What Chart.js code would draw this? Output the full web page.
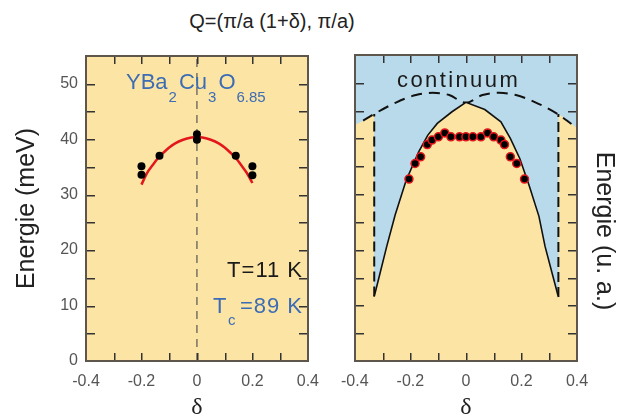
<!DOCTYPE html>
<html>
<head>
<meta charset="utf-8">
<script src="https://cdn.jsdelivr.net/npm/chart.js@4.4.1/dist/chart.umd.min.js"></script>
<style>
  html, body { margin: 0; padding: 0; background: #fff; overflow: hidden; }
  #wrap { position: relative; width: 624px; height: 416px; }
  canvas { position: absolute; top: 0; }
  #title { position: absolute; left: 172px; width: 200px; top: 10px; text-align: center;
           font: 20px "Liberation Sans", Arial, sans-serif; color: #222; }
</style>
</head>
<body>
<div id="wrap">
  <div id="title">Q=(π/a (1+δ), π/a)</div>
  <canvas id="left" width="330" height="416" style="left:0"></canvas>
  <canvas id="right" width="294" height="416" style="left:330px"></canvas>
</div>
<script>
// axes
const xTickMarks = [-0.3, -0.2, -0.1, 0, 0.1, 0.2, 0.3];
const xLabels = [-0.4, -0.2, 0, 0.2, 0.4];
const yTickMarks = [5, 10, 15, 20, 25, 30, 35, 40, 45, 50];
const yLabels = [0, 10, 20, 30, 40, 50];

// left panel: measured energies and fit
const leftDelta = [-0.2, -0.2, -0.135, 0, 0, 0.14, 0.2, 0.2];
const leftEnergy = [35.1, 33.6, 37.0, 40.9, 39.9, 37.0, 35.1, 33.5];
const fitDelta = [-0.2, -0.18, -0.16, -0.14, -0.12, -0.1, -0.08, -0.05, -0.02, 0, 0.02, 0.05, 0.08, 0.1, 0.12, 0.14, 0.16, 0.18, 0.2];
const fitEnergy = [31.8, 33.9, 35.3, 36.6, 37.6, 38.5, 39.2, 39.9, 40.3, 40.4, 40.3, 39.9, 39.2, 38.5, 37.6, 36.6, 35.3, 33.9, 32.1];

// right panel: model
const rightDelta = [-0.205, -0.183, -0.163, -0.139, -0.122, -0.099, -0.076, -0.054, -0.023, 0, 0.025, 0.054, 0.078, 0.1, 0.126, 0.139, 0.16, 0.183, 0.211];
const rightEnergy = [32.7, 35.5, 36.7, 38.9, 39.7, 40.3, 41.0, 40.3, 40.3, 40.3, 40.3, 40.3, 41.0, 40.3, 39.7, 38.9, 36.7, 35.5, 32.7];
const domeDelta = [-0.33, -0.31, -0.285, -0.255, -0.215, -0.17, -0.137, -0.103, -0.05, 0, 0.068, 0.126, 0.16, 0.194, 0.228, 0.263, 0.285, 0.314, 0.333];
const domeEnergy = [11.6, 15.6, 20.6, 26.2, 32.5, 37.6, 40.6, 42.7, 44.8, 46.5, 45.2, 43.0, 40.0, 36.4, 31.5, 26.0, 20.6, 15.1, 11.5];
const contDelta = [-0.37, -0.33, -0.25, -0.18, -0.12, -0.06, 0, 0.06, 0.12, 0.18, 0.25, 0.33, 0.38];
const contEnergy = [43.2, 44.4, 46.5, 47.8, 48.2, 47.8, 46.4, 47.8, 48.2, 47.8, 46.5, 44.4, 42.6];
const edgeLeftDelta = [-0.4, -0.37, -0.33];
const edgeLeftEnergy = [42.4, 43.2, 44.4];
const edgeRightDelta = [0.333, 0.37, 0.4];
const edgeRightEnergy = [44.4, 43.1, 41.8];
const baseDelta = [-0.4, 0.4];
const baseEnergy = [11.5, 11.5];

const FONT = '"Liberation Sans", Arial, sans-serif';
const YELLOW = '#fce5a4';
const BLUE = '#b8daea';
const RED = '#e3161b';

const pts = (xs, ys) => xs.map((v, i) => ({ x: v, y: ys[i] }));

function makePanel(bg, texts) {
  return {
    id: 'panel',
    beforeDraw(chart) {
      const { ctx, chartArea: a } = chart;
      ctx.save();
      ctx.fillStyle = bg;
      ctx.fillRect(a.left, a.top, a.right - a.left, a.bottom - a.top);
      ctx.restore();
    },
    afterDraw(chart) {
      const ctx = chart.ctx;
      const a = chart.chartArea;
      const x = chart.scales.x, y = chart.scales.y;
      const L = Math.round(a.left), R = Math.round(a.right);
      const T = Math.round(a.top), B = Math.round(a.bottom);
      ctx.save();
      ctx.fillStyle = '#333';
      xTickMarks.forEach(v => {
        const px = Math.round(x.getPixelForValue(v));
        ctx.fillRect(px, B - 8, 1.5, 8);
        ctx.fillRect(px, T, 1.5, 8);
      });
      yTickMarks.forEach(v => {
        const py = Math.round(y.getPixelForValue(v));
        ctx.fillRect(L, py, 9, 1.5);
        ctx.fillRect(R - 9, py, 9, 1.5);
      });
      ctx.fillStyle = '#5e564a';
      ctx.fillRect(L - 1, T - 1, R - L + 2, 2);
      ctx.fillRect(L - 1, B - 1, R - L + 2, 2);
      ctx.fillRect(L - 1, T - 1, 2, B - T + 2);
      ctx.fillRect(R - 1, T - 1, 2, B - T + 2);
      texts(ctx, a);
      ctx.restore();
    }
  };
}

function xAxis() {
  return {
    type: 'linear', min: -0.4, max: 0.4,
    afterBuildTicks: s => { s.ticks = xLabels.map(v => ({ value: v })); },
    afterFit: s => { s.height = 55; },
    grid: { display: false, drawTicks: false },
    border: { display: false },
    ticks: { padding: 11, color: '#555', font: { family: FONT, size: 16 },
             callback: v => v === 0 ? '0' : v.toFixed(1) },
    title: { display: true, text: 'δ', color: '#222', padding: 0,
             font: { family: '"Liberation Serif", serif', size: 24, lineHeight: 0.7 } }
  };
}

function leftTexts(ctx, a) {
  ctx.fillStyle = '#3c6cb4';
  ctx.textBaseline = 'alphabetic';
  ctx.textAlign = 'left';
  const parts = [['YBa', 0], ['2', 1], ['Cu', 0], ['3', 1], ['O', 0], ['6.85', 1]];
  let px = 126;
  parts.forEach(([s, sub]) => {
    ctx.font = (sub ? '15px ' : '22px ') + FONT;
    ctx.fillText(s, px, sub ? 102 : 89);
    px += ctx.measureText(s).width + (sub ? 2 : 1);
  });
  ctx.fillStyle = '#1a1a1a';
  ctx.textAlign = 'right';
  ctx.letterSpacing = '1px';
  ctx.font = '22px ' + FONT;
  ctx.fillText('T=11 K', 303, 277);
  ctx.fillStyle = '#3c6cb4';
  ctx.fillText('=89 K', 303, 313);
  ctx.textAlign = 'left';
  ctx.letterSpacing = '0px';
  ctx.fillText('T', 213, 313);
  ctx.font = '15px ' + FONT;
  ctx.fillText('c', 228, 325);
}

function rightTexts(ctx, a) {
  ctx.fillStyle = '#1a1a1a';
  ctx.textBaseline = 'alphabetic';
  ctx.textAlign = 'left';
  ctx.letterSpacing = '2.4px';
  ctx.font = '22px ' + FONT;
  ctx.fillText('continuum', 67, 87);
  ctx.letterSpacing = '0px';
  ctx.translate(274, 231);
  ctx.rotate(Math.PI / 2);
  ctx.textAlign = 'center';
  ctx.textBaseline = 'middle';
  ctx.fillStyle = '#222';
  ctx.font = '25px ' + FONT;
  ctx.fillText('Energie (u. a.)', 0, 0);
}

const common = {
  responsive: false,
  animation: false,
  devicePixelRatio: 1,
  plugins: { legend: { display: false }, tooltip: { enabled: false } }
};

new Chart(document.getElementById('left'), {
  type: 'line',
  data: {
    datasets: [
      { data: pts(leftDelta, leftEnergy), showLine: false, pointRadius: 4,
        pointBackgroundColor: '#000', pointBorderColor: '#000', pointBorderWidth: 0 },
      { data: pts(fitDelta, fitEnergy), borderColor: RED, borderWidth: 2.5,
        pointRadius: 0, cubicInterpolationMode: 'monotone' },
      { data: pts([0, 0], [0, 55]), borderColor: '#555', borderWidth: 1.2,
        borderDash: [8, 6], pointRadius: 0 }
    ]
  },
  options: {
    ...common,
    layout: { padding: { top: 56, right: 17, left: 0, bottom: 0 } },
    scales: {
      x: xAxis(),
      y: {
        min: 0, max: 55,
        afterBuildTicks: s => { s.ticks = yLabels.map(v => ({ value: v })); },
        afterFit: s => { s.width = 86; },
        grid: { display: false, drawTicks: false },
        border: { display: false },
        ticks: { padding: 8, color: '#555', font: { family: FONT, size: 16 } },
        title: { display: true, text: 'Energie (meV)', color: '#222',
                 padding: { top: 12, bottom: 0 }, font: { family: FONT, size: 25 } }
      }
    }
  },
  plugins: [makePanel(YELLOW, leftTexts)]
});

new Chart(document.getElementById('right'), {
  type: 'line',
  data: {
    datasets: [
      { data: pts(rightDelta, rightEnergy), showLine: false, pointRadius: 4,
        pointBackgroundColor: '#000', pointBorderColor: RED, pointBorderWidth: 1.5 },
      { data: pts(domeDelta, domeEnergy), borderColor: '#111', borderWidth: 1.6,
        pointRadius: 0, fill: 'origin', backgroundColor: YELLOW },
      { data: pts(contDelta, contEnergy), borderColor: '#111', borderWidth: 2,
        borderDash: [11, 7], pointRadius: 0, cubicInterpolationMode: 'monotone' },
      { data: pts([-0.33, -0.33], [11.6, 44.4]), borderColor: '#111', borderWidth: 2,
        borderDash: [10, 5], pointRadius: 0 },
      { data: pts([0.333, 0.333], [11.5, 44.4]), borderColor: '#111', borderWidth: 2,
        borderDash: [10, 5], pointRadius: 0 },
      { data: pts(edgeLeftDelta, edgeLeftEnergy), borderWidth: 0, pointRadius: 0,
        fill: 'origin', backgroundColor: YELLOW, cubicInterpolationMode: 'monotone' },
      { data: pts(edgeRightDelta, edgeRightEnergy), borderWidth: 0, pointRadius: 0,
        fill: 'origin', backgroundColor: YELLOW, cubicInterpolationMode: 'monotone' },
      { data: pts(baseDelta, baseEnergy), borderWidth: 0, pointRadius: 0,
        fill: 'origin', backgroundColor: YELLOW }
    ]
  },
  options: {
    ...common,
    layout: { padding: { top: 55, right: 0, left: 13, bottom: 0 } },
    scales: {
      x: xAxis(),
      y: {
        position: 'right', min: 0, max: 55,
        afterFit: s => { s.width = 47; },
        grid: { display: false, drawTicks: false },
        border: { display: false },
        ticks: { display: false }
      }
    }
  },
  plugins: [makePanel(BLUE, rightTexts)]
});
</script>
</body>
</html>
